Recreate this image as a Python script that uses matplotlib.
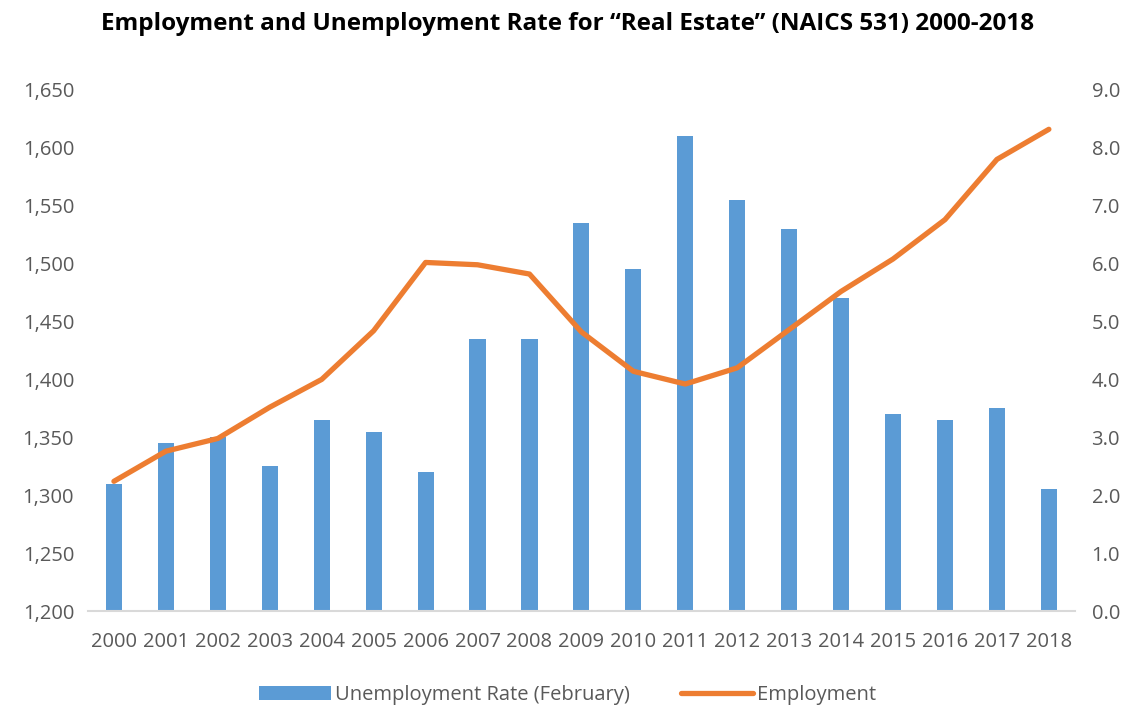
import numpy as np
import matplotlib.pyplot as plt

years = [str(y) for y in range(2000, 2019)]
unemployment = [2.2, 2.9, 3.0, 2.5, 3.3, 3.1, 2.4, 4.7, 4.7, 6.7,
                5.9, 8.2, 7.1, 6.6, 5.4, 3.4, 3.3, 3.5, 2.1]
employment = [1312, 1338, 1349, 1376, 1400, 1442, 1501, 1499, 1491, 1441,
              1407, 1396, 1410, 1443, 1476, 1504, 1538, 1590, 1616]

plt.rcParams['font.family'] = ['Open Sans', 'DejaVu Sans']

fig = plt.figure(figsize=(11.35, 7.08), dpi=100)
ax = fig.add_axes([0.0775, 0.137, 0.8695, 0.736])
ax2 = ax.twinx()

x = np.arange(len(years))
bars = ax2.bar(x, unemployment, width=0.31, color='#5B9BD5',
               label='Unemployment Rate (February)', zorder=1)
line, = ax.plot(x, employment, color='#ED7D31', lw=3.8,
                solid_capstyle='round', solid_joinstyle='round',
                label='Employment', zorder=3)

# line above bars
ax.set_zorder(ax2.get_zorder() + 1)
ax.patch.set_visible(False)

ax.set_ylim(1200, 1650)
ax.set_yticks(range(1200, 1651, 50))
ax.set_yticklabels([f'{v:,}' for v in range(1200, 1651, 50)])
ax2.set_ylim(0, 9)
ax2.set_yticks(np.arange(0, 9.1, 1))
ax2.set_yticklabels([f'{v:.1f}' for v in np.arange(0, 9.1, 1)])
ax.set_xlim(-0.5, len(years) - 0.5)
ax.set_xticks(x)
ax.set_xticklabels(years)

for a in (ax, ax2):
    for s in a.spines.values():
        s.set_visible(False)
    a.tick_params(length=0, labelsize=14.5, colors='#595959')
ax.spines['bottom'].set_visible(True)
ax.spines['bottom'].set_color('#D9D9D9')
ax.spines['bottom'].set_linewidth(1.5)
ax.tick_params(axis='y', pad=10)
ax.tick_params(axis='x', pad=15)
ax2.tick_params(axis='y', pad=12)

fig.suptitle('Employment and Unemployment Rate for \u201cReal Estate\u201d (NAICS 531) 2000-2018',
             x=0.5, y=0.983, fontsize=17.5, fontweight='bold', color='black')

fig.legend(handles=[bars, line], loc='lower center', ncol=2, frameon=False,
           bbox_to_anchor=(0.5, -0.022), fontsize=14.5, labelcolor='#595959',
           handlelength=3.6, columnspacing=2.5, handletextpad=0.2)

plt.savefig('out.png', dpi=100)
